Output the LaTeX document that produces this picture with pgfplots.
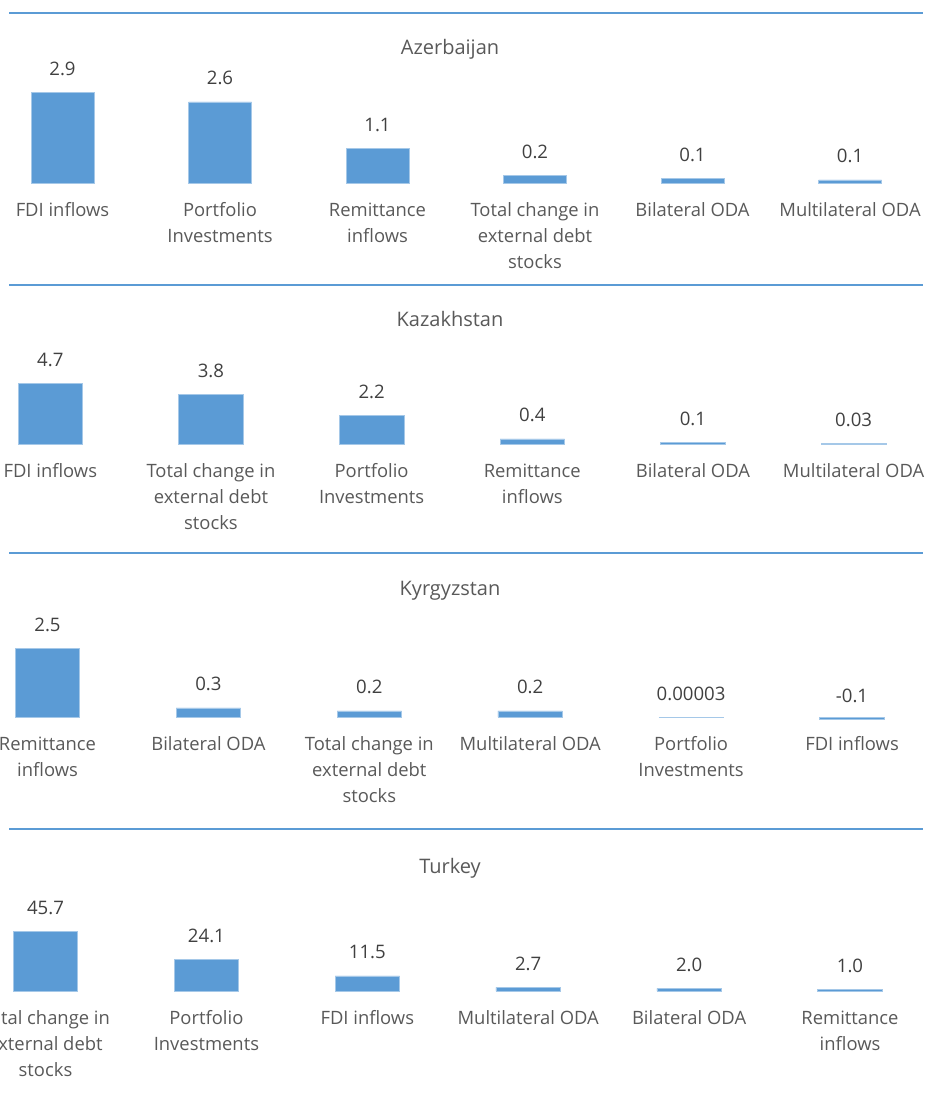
\documentclass[border=0pt]{standalone}
\usepackage{pgfplots}
\pgfplotsset{compat=1.18}
\usepackage{pgfplotstable}
\usepackage{fontspec}
\setmainfont{Open Sans}
\definecolor{barblue}{HTML}{5B9BD5}
\definecolor{txt}{HTML}{595959}
\definecolor{val}{HTML}{404040}

\pgfplotstableread{
x y lab
0 2.9 2.9
1 2.6 2.6
2 1.1 1.1
3 0.24 0.2
4 0.14 0.1
5 0.10 0.1
}\az
\pgfplotstableread{
x y lab
0 4.7 4.7
1 3.8 3.8
2 2.2 2.2
3 0.4 0.4
4 0.1 0.1
5 0.03 0.03
}\kaz
\pgfplotstableread{
x y lab
0 2.5 2.5
1 0.33 0.3
2 0.22 0.2
3 0.22 0.2
4 0.00003 0.00003
5 -0.1 -0.1
}\kyr
\pgfplotstableread{
x y lab
0 45.7 45.7
1 24.1 24.1
2 11.5 11.5
3 2.7 2.7
4 2.0 2.0
5 1.0 1.0
}\tur

\pgfplotsset{panel/.style={
  anchor=origin, clip=false,
  xmin=-0.5, xmax=5.5,
  ybar,
  axis line style={draw=none}, tick style={draw=none}, major tick length=0pt,
  ytick=\empty, xtick={0,...,5},
  xticklabel style={font=\fontsize{9.2}{13}\selectfont, text=txt, align=center, anchor=north, inner sep=0pt, yshift=-9.6pt},
  nodes near coords, point meta=explicit symbolic,
  every node near coord/.append style={font=\fontsize{9.3}{11}\selectfont, text=val, anchor=base, inner sep=0pt, yshift=8.5pt},
}}

\begin{document}
\begin{tikzpicture}
\path[use as bounding box] (0,0) rectangle (464.5pt,-555.5pt);

% separator lines
\draw[barblue, line width=0.6pt] (4.5pt,-6.5pt) -- (461.5pt,-6.5pt);
\draw[barblue, line width=0.6pt] (4.5pt,-142.5pt) -- (461.5pt,-142.5pt);
\draw[barblue, line width=0.6pt] (4.5pt,-276.5pt) -- (461.5pt,-276.5pt);
\draw[barblue, line width=0.6pt] (4.5pt,-414.5pt) -- (461.5pt,-414.5pt);

% titles
\node[anchor=base, font=\fontsize{10}{12}\selectfont, text=txt] at (225pt,-27.5pt) {Azerbaijan};
\node[anchor=base, font=\fontsize{10}{12}\selectfont, text=txt] at (225pt,-163.5pt) {Kazakhstan};
\node[anchor=base, font=\fontsize{10}{12}\selectfont, text=txt] at (225pt,-297.5pt) {Kyrgyzstan};
\node[anchor=base, font=\fontsize{10}{12}\selectfont, text=txt] at (225pt,-436.5pt) {Turkey};

\begin{axis}[panel, at={(31.25pt,-91.5pt)}, x=78.75pt, y=15.6pt, ymin=0, ymax=3.2, bar width=31.5pt,
  xticklabels={FDI inflows, {Portfolio\\Investments}, {Remittance\\inflows}, {Total change in\\external debt\\stocks}, Bilateral ODA, Multilateral ODA}]
\addplot[fill=barblue, draw=barblue!55, line width=0.3pt] table[x=x, y=y, meta=lab] {\az};
\end{axis}

\begin{axis}[panel, at={(25.15pt,-222pt)}, x=80.33pt, y=6.475pt, ymin=0, ymax=5, bar width=32.25pt,
  xticklabels={FDI inflows, {Total change in\\external debt\\stocks}, {Portfolio\\Investments}, {Remittance\\inflows}, Bilateral ODA, Multilateral ODA}]
\addplot[fill=barblue, draw=barblue!55, line width=0.3pt] table[x=x, y=y, meta=lab] {\kaz};
\end{axis}

\begin{axis}[panel, at={(23.75pt,-358.5pt)}, x=80.45pt, y=13.8pt, ymin=-0.1, ymax=2.7, bar width=32.25pt,
  xticklabel style={yshift=1.4pt},
  xticklabels={{Remittance\\inflows}, Bilateral ODA, {Total change in\\external debt\\stocks}, Multilateral ODA, {Portfolio\\Investments}, FDI inflows}]
\addplot[fill=barblue, draw=barblue!55, line width=0.3pt] table[x=x, y=y, meta=lab] {\kyr};
\end{axis}

\begin{axis}[panel, at={(22.75pt,-495.5pt)}, x=80.45pt, y=0.6565pt, ymin=0, ymax=48, bar width=32.25pt,
  xticklabels={{Total change in\\external debt\\stocks}, {Portfolio\\Investments}, FDI inflows, Multilateral ODA, Bilateral ODA, {Remittance\\inflows}}]
\addplot[fill=barblue, draw=barblue!55, line width=0.3pt] table[x=x, y=y, meta=lab] {\tur};
\end{axis}
\end{tikzpicture}
\end{document}
